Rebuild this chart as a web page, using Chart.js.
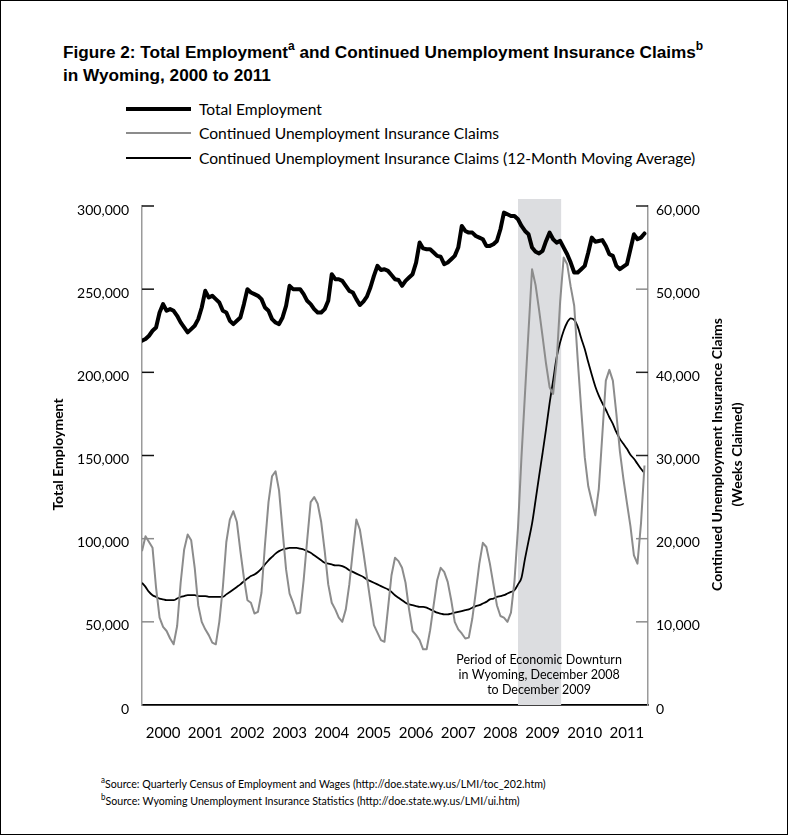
<!DOCTYPE html>
<html><head><meta charset="utf-8">
<script src="https://cdn.jsdelivr.net/npm/chart.js@4.4.0/dist/chart.umd.min.js"></script>
<style>
html,body{margin:0;padding:0;background:#fff;}
#frame{position:relative;width:788px;height:835px;box-sizing:border-box;border:1px solid #000;overflow:hidden;background:#fff;}
#title{position:absolute;left:62px;top:40px;font-family:"Liberation Sans",Arial,sans-serif;font-weight:bold;font-size:17.2px;line-height:23px;color:#000;white-space:nowrap;}
#title sup{font-size:12px;line-height:0;position:relative;top:-1px;vertical-align:super;}
.leg{position:absolute;left:125px;height:20px;font-family:Lato,sans-serif;font-size:15.6px;color:#000;}
.leg .sw{position:absolute;left:0;width:65px;}
.leg .tx{position:absolute;left:73px;top:0;line-height:20px;white-space:nowrap;}
#foot{position:absolute;left:100px;top:774px;font-family:Lato,sans-serif;font-size:12px;line-height:17px;color:#000;white-space:nowrap;transform:scaleX(0.885);transform-origin:0 0;}
#foot sup{font-size:9px;line-height:0;vertical-align:super;}
#wrap{position:absolute;left:0;top:180px;width:788px;height:580px;}
</style>
</head><body>
<div id="frame">
  <div id="title">Figure 2: Total Employment<sup>a</sup> and Continued Unemployment Insurance Claims<sup>b</sup><br>in Wyoming, 2000 to 2011</div>
  <div id="legend"></div>
  <div id="wrap"><canvas id="c" width="788" height="580"></canvas></div>
  <div id="foot"><sup>a</sup>Source: Quarterly Census of Employment and Wages (http://doe.state.wy.us/LMI/toc_202.htm)<br><sup>b</sup>Source: Wyoming Unemployment Insurance Statistics (http://doe.state.wy.us/LMI/ui.htm)</div>
</div>
<script>
// ---- data (monthly, Jan 2000 onward) ----
const yearLabels = ['2000','2001','2002','2003','2004','2005','2006','2007','2008','2009','2010','2011'];
const seriesNames = ['Total Employment','Continued Unemployment Insurance Claims','Continued Unemployment Insurance Claims (12-Month Moving Average)'];

const totalEmployment = [
 219000,220000,222000,225000,227000,236000,241000,237000,238000,237000,234000,230000,
 227000,224000,226000,228000,232000,239000,249000,245000,246000,244000,242000,237000,
 236000,231000,229000,231000,233000,241000,250000,248000,247000,246000,244000,239000,
 237000,232000,230000,229000,233000,240000,252000,250000,250000,250000,247000,243000,
 241000,238000,236000,236000,238000,243000,259000,256000,256000,255000,252000,249000,
 248000,244000,240500,242500,245500,251000,258000,264000,261500,262000,261000,258500,
 256000,255500,252000,255000,257000,259000,266000,278000,274500,274000,274000,272000,
 270000,269500,265000,266000,268000,270000,275000,288000,285000,284000,284000,282000,
 281000,280000,276000,276000,277000,279000,286000,296000,295000,294000,294000,292000,
 288000,285000,283000,275000,272500,271500,273000,279000,284000,280000,278000,279000,
 275000,271000,266000,260000,260000,262000,264000,272000,281000,278500,279000,279500,
 276000,271000,270000,264000,262000,263500,265000,274000,283000,280000,281000,283500
];

const uiClaims = [
 18500,20300,19600,18900,14100,10500,9400,8900,8000,7300,9500,14700,
 18700,20500,19800,16500,12000,10000,9100,8400,7500,7300,10000,14100,
 19600,22300,23300,22000,18500,15300,12600,12300,11000,11200,13500,19300,
 24400,27500,28100,25800,21000,16300,13400,12300,11000,11100,15000,19800,
 24400,25000,24200,22000,18500,14500,12300,11500,10500,10000,11500,14500,
 18500,22300,21100,18400,15400,12500,9600,8700,7800,7600,11600,15600,
 17700,17300,16500,14700,11500,8900,8400,7800,6700,6700,9000,12000,
 15000,16500,16000,14800,12600,10000,9100,8600,8000,8100,10400,13600,
 17000,19500,19000,17000,14500,12000,10700,10500,10000,11100,14900,21300,
 29900,37500,45000,52400,50500,47500,44300,41000,38200,37400,41300,48500,
 53800,53000,50300,48000,41500,35500,29800,26300,24500,22800,26000,32500,
 39000,40300,39000,35000,30500,27200,24300,21500,18000,17000,21800,28800
];

const uiClaimsMA12 = [
 14700,14200,13600,13200,13000,12800,12700,12600,12600,12600,12800,13000,
 13100,13200,13200,13200,13100,13100,13100,13000,13000,13000,13000,13000,
 13300,13600,13900,14200,14500,14900,15200,15500,15700,16000,16400,16900,
 17400,17800,18200,18500,18700,18800,18900,18900,18900,18800,18700,18500,
 18300,18000,17700,17400,17100,17000,16900,16800,16800,16700,16500,16200,
 16000,15800,15600,15400,15100,14900,14700,14500,14300,14100,13900,13600,
 13200,12900,12600,12300,12100,12000,11900,11800,11800,11700,11500,11300,
 11100,11000,10900,10900,11000,11100,11200,11300,11400,11500,11700,11900,
 12000,12200,12400,12700,12800,13000,13100,13200,13400,13600,13800,14500,
 15300,17600,19700,21800,24600,27500,30300,33200,36300,39000,41800,43600,
 45000,46000,46500,46300,45500,44100,42800,41200,39700,38300,37200,36300,
 35500,34600,33800,32800,32000,31400,30800,30100,29600,29000,28400,27900
];

// downturn period: December 2008 to December 2009 (month indexes)
const downturnStart = 107;
const downturnEnd = 119;
const downturnText = ['Period of Economic Downturn','in Wyoming, December 2008','to December 2009'];

const leftTicks = [0,50000,100000,150000,200000,250000,300000];
const rightTicks = [0,10000,20000,30000,40000,50000,60000];

// ---- legend (HTML) ----
const legendStyles = [
  {color:'#000', w:4.5, y:108},
  {color:'#8c8c8c', w:2, y:132},
  {color:'#000', w:1.8, y:157}
];
const legEl = document.getElementById('legend');
seriesNames.forEach((n,i)=>{
  const s = legendStyles[i];
  const d = document.createElement('div');
  d.className='leg'; d.style.top=(s.y-10)+'px';
  d.innerHTML = '<div class="sw" style="top:'+(10-s.w/2)+'px;height:'+s.w+'px;background:'+s.color+'"></div><div class="tx">'+n+'</div>';
  legEl.appendChild(d);
});

const pts = arr => arr.map((v,i)=>({x:i,y:v}));
const fmt = v => Number(v).toLocaleString('en-US');

const decor = {
  id:'decor',
  beforeDatasetsDraw(chart){
    const {ctx, chartArea:a, scales:{x}} = chart;
    const x0 = x.getPixelForValue(downturnStart), x1 = x.getPixelForValue(downturnEnd);
    ctx.save();
    ctx.fillStyle = '#dcdde0';
    ctx.fillRect(x0, a.top-7, x1-x0+1, a.bottom-(a.top-7));
    ctx.restore();
  },
  afterDraw(chart){
    const {ctx, chartArea:a, scales:{x,y,y1}} = chart;
    ctx.save();
    // inward tick marks
    ctx.lineWidth = 1.5;
    leftTicks.forEach(v=>{ if(!v) return;
      const p = y.getPixelForValue(v);
      ctx.strokeStyle = v>=150000 ? '#111' : '#8c8c8c';
      ctx.beginPath(); ctx.moveTo(a.left, p); ctx.lineTo(a.left+12, p); ctx.stroke();
    });
    rightTicks.forEach(v=>{ if(!v) return;
      const p = y1.getPixelForValue(v);
      ctx.strokeStyle = (v===60000||v===40000||v===30000) ? '#222' : '#8c8c8c';
      ctx.beginPath(); ctx.moveTo(a.right-12, p); ctx.lineTo(a.right, p); ctx.stroke();
    });
    // downturn annotation
    const xc = (x.getPixelForValue(downturnStart)+x.getPixelForValue(downturnEnd))/2;
    ctx.fillStyle = '#000';
    ctx.font = '12.5px Lato, sans-serif';
    ctx.textAlign = 'center'; ctx.textBaseline = 'middle';
    downturnText.forEach((t,i)=> ctx.fillText(t, xc, a.bottom-45+i*15));
    // axis titles
    const yc = (a.top+a.bottom)/2 - 1;
    ctx.font = 'bold 14px Lato, sans-serif';
    ctx.save(); ctx.translate(a.left-84, yc); ctx.rotate(-Math.PI/2);
    ctx.fillText('Total Employment', 0, 0); ctx.restore();
    ctx.save(); ctx.translate(a.right+69, yc); ctx.rotate(-Math.PI/2);
    ctx.fillText('Continued Unemployment Insurance Claims', 0, 0); ctx.restore();
    ctx.save(); ctx.translate(a.right+89, yc); ctx.rotate(-Math.PI/2);
    ctx.fillText('(Weeks Claimed)', 0, 0); ctx.restore();
    ctx.restore();
  }
};

new Chart(document.getElementById('c'), {
  type:'line',
  data:{
    datasets:[
      {label:seriesNames[0], data:pts(totalEmployment), yAxisID:'y', borderColor:'#000', borderWidth:4, tension:0, pointRadius:0, borderJoinStyle:'round', borderCapStyle:'round'},
      {label:seriesNames[1], data:pts(uiClaims), yAxisID:'y1', borderColor:'#8c8c8c', borderWidth:2, tension:0, pointRadius:0, borderJoinStyle:'round'},
      {label:seriesNames[2], data:pts(uiClaimsMA12), yAxisID:'y1', borderColor:'#000', borderWidth:1.8, tension:0.4, cubicInterpolationMode:'monotone', pointRadius:0}
    ]
  },
  options:{
    responsive:false, animation:false,
    layout:{padding:{top:25,left:0,right:0,bottom:0}},
    plugins:{legend:{display:false}, tooltip:{enabled:false}},
    scales:{
      x:{type:'linear', min:0, max:144, position:'bottom',
         grid:{display:false, drawTicks:false},
         border:{display:true, color:'#000', width:1.8},
         afterBuildTicks:s=>{ s.ticks = yearLabels.map((_,k)=>({value:6+12*k})); },
         afterFit:s=>{ s.height = 56; },
         ticks:{autoSkip:false, maxRotation:0, padding:19, color:'#000', font:{family:'Lato', size:15},
                callback:(v,i)=>yearLabels[i]}
      },
      y:{type:'linear', position:'left', min:0, max:300000,
         grid:{display:false, drawTicks:false},
         border:{display:true, color:'#9a9a9a', width:1.5},
         afterBuildTicks:s=>{ s.ticks = leftTicks.map(v=>({value:v})); },
         afterFit:s=>{ s.width = 141; },
         ticks:{padding:13, labelOffset:4, color:'#000', font:{family:'Lato', size:14}, callback:v=>fmt(v)}
      },
      y1:{type:'linear', position:'right', min:0, max:60000,
         grid:{display:false, drawTicks:false},
         border:{display:true, color:'#9a9a9a', width:1.5},
         afterBuildTicks:s=>{ s.ticks = rightTicks.map(v=>({value:v})); },
         afterFit:s=>{ s.width = 141; },
         ticks:{padding:8, labelOffset:4, color:'#000', font:{family:'Lato', size:14}, callback:v=>fmt(v)}
      }
    }
  },
  plugins:[decor]
});
</script>
</body></html>
